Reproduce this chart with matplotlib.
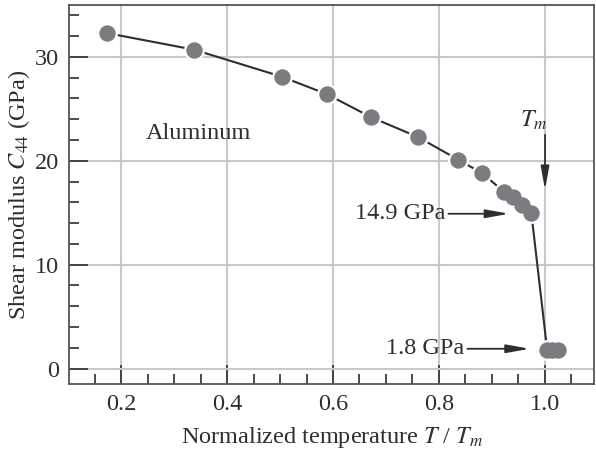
import matplotlib.pyplot as plt
from matplotlib.ticker import MultipleLocator

# =============================
# Data
# =============================
t_norm = [0.172, 0.337, 0.503, 0.589, 0.672, 0.760, 0.837, 0.882,
          0.924, 0.940, 0.957, 0.975, 1.005, 1.015, 1.025]
c44 = [32.3, 30.7, 28.1, 26.4, 24.2, 22.3, 20.1, 18.8,
       17.0, 16.5, 15.7, 15.0, 1.8, 1.8, 1.8]

x_ticks = [0.2, 0.4, 0.6, 0.8, 1.0]
y_ticks = [0, 10, 20, 30]

# =============================
# Style
# =============================
plt.rcParams["font.family"] = ["Liberation Serif", "DejaVu Serif"]
plt.rcParams["mathtext.fontset"] = "stix"
ink = "#2e2e2e"
fs = 17.5

fig = plt.figure(figsize=(5.96, 4.54), dpi=100)
ax = fig.add_axes([0.116, 0.154, 0.881, 0.835])

# line with white halos, then gray dots on top (dots merge where they overlap)
ax.plot(t_norm, c44, color=ink, lw=1.5, zorder=3,
        marker="o", markersize=15, markerfacecolor="white",
        markeredgecolor="none")
ax.plot(t_norm, c44, ls="none", zorder=4,
        marker="o", markersize=11.8, markerfacecolor="#7b7c80",
        markeredgecolor="none")

ax.set_xlim(0.101, 1.094)
ax.set_ylim(-1.5, 35)
ax.set_xticks(x_ticks)
ax.set_xticklabels(["%.1f" % v for v in x_ticks])
ax.set_yticks(y_ticks)
ax.xaxis.set_minor_locator(MultipleLocator(0.05))
ax.yaxis.set_minor_locator(MultipleLocator(2))

ax.grid(True, which="major", color="#c9c9c9", lw=1.5, zorder=0)
ax.tick_params(which="both", direction="in", colors=ink, labelsize=fs,
               width=1.2)
ax.tick_params(which="major", length=14, pad=7)
ax.tick_params(which="minor", length=7)
for s in ax.spines.values():
    s.set_color("#555555")
    s.set_linewidth(1.3)

ax.set_xlabel("Normalized temperature $T$ / $T_m$", fontsize=fs, color=ink,
              labelpad=7)
ax.set_ylabel("Shear modulus $C_{44}$ (GPa)", fontsize=fs, color=ink,
              labelpad=2)

# =============================
# Annotations
# =============================
ax.text(0.345, 22.6, "Aluminum", fontsize=fs, color=ink, ha="center",
        va="center")

arrow = dict(arrowstyle="-|>,head_length=1.0,head_width=0.18", color=ink,
             lw=1.3, mutation_scale=14, shrinkA=0, shrinkB=0)
ax.text(0.98, 23.9, "$T_m$", fontsize=fs, color=ink, ha="center",
        va="center")
ax.annotate("", xy=(1.001, 17.2), xytext=(1.001, 22.5), arrowprops=arrow)
ax.annotate("14.9 GPa", xy=(0.933, 14.9), xytext=(0.813, 14.9), fontsize=fs,
            color=ink, ha="right", va="center", arrowprops=arrow)
ax.annotate("1.8 GPa", xy=(0.972, 1.9), xytext=(0.849, 1.9), fontsize=fs,
            color=ink, ha="right", va="center", arrowprops=arrow)

fig.savefig("out.png", dpi=100)
